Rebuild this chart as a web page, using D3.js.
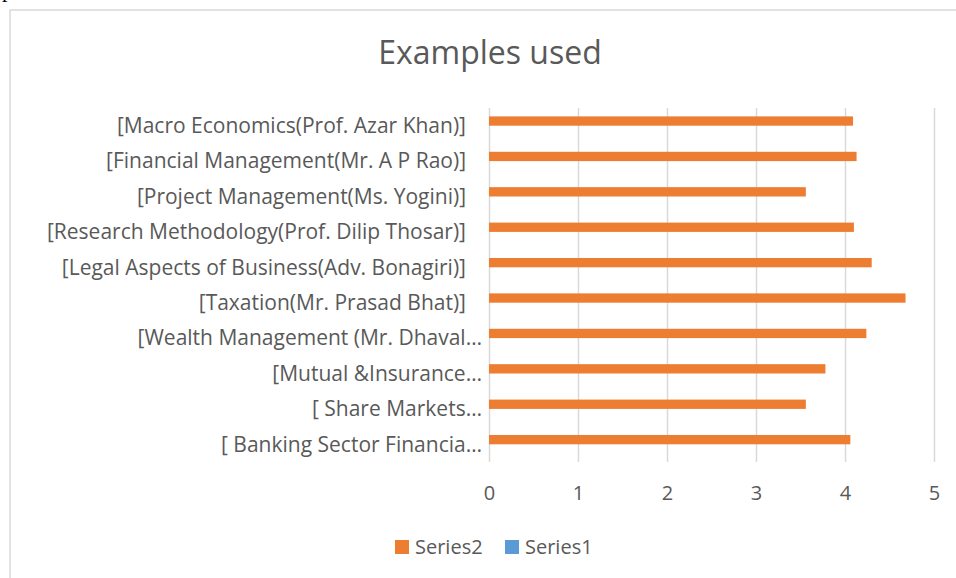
<!DOCTYPE html>
<html>
<head>
<meta charset="utf-8">
<script src="https://cdn.jsdelivr.net/npm/d3@7"></script>
<style>
  body { margin: 0; background: #fff; }
  svg { display: block; }
</style>
</head>
<body>
<div id="chart"></div>
<script>
// categories, top to bottom as they appear
var categories = [
    "[Macro Economics(Prof. Azar Khan)]",
    "[Financial Management(Mr. A P Rao)]",
    "[Project Management(Ms. Yogini)]",
    "[Research Methodology(Prof. Dilip Thosar)]",
    "[Legal Aspects of Business(Adv. Bonagiri)]",
    "[Taxation(Mr. Prasad Bhat)]",
    "[Wealth Management (Mr. Dhaval…",
    "[Mutual &Insurance…",
    "[ Share Markets…",
    "[ Banking Sector Financia…"
];
var series2 = [4.09, 4.13, 3.56, 4.10, 4.30, 4.68, 4.24, 3.78, 3.56, 4.06];
var series1 = [0, 0, 0, 0, 0, 0, 0, 0, 0, 0];
var seriesNames = ["Series2", "Series1"];
var seriesColors = ["#ED7D31", "#5B9BD5"];
var xTicks = [0, 1, 2, 3, 4, 5];

var w = 956, h = 578;
var plotLeft = 489, plotRight = 934, plotTop = 108, plotBottom = 462;
var font = "'Open Sans', sans-serif",
    textColor = "#595959",
    gridColor = "#d9d9d9";

var svg = d3.select("#chart").append("svg")
    .attr("width", w)
    .attr("height", h);

// stray letter from the surrounding document
svg.append("text")
    .attr("x", 2)
    .attr("y", -3)
    .style("font-family", "'Liberation Serif', serif")
    .style("font-size", "22px")
    .style("fill", "#000")
    .text("p");

// chart frame, cut off at right and bottom
svg.append("rect")
    .attr("x", 10)
    .attr("y", 10)
    .attr("width", w)
    .attr("height", h)
    .style("fill", "#fff")
    .style("stroke", gridColor)
    .style("stroke-width", 1.5);

svg.append("text")
    .attr("x", 490)
    .attr("y", 64)
    .attr("text-anchor", "middle")
    .style("font-family", font)
    .style("font-size", "32px")
    .style("fill", textColor)
    .text("Examples used");

var x = d3.scaleLinear().domain([0, 5]).range([plotLeft, plotRight]);
var y = d3.scaleBand().domain(categories).range([plotTop, plotBottom]);
var ySub = d3.scaleBand().domain(seriesNames)
    .range([0, y.bandwidth()])
    .paddingOuter(0.9);

// vertical gridlines
var grid = svg.append("g")
    .attr("transform", "translate(0," + plotBottom + ")")
    .call(d3.axisBottom(x).tickValues(xTicks).tickSize(-(plotBottom - plotTop)).tickFormat(""));
grid.select(".domain").remove();
grid.selectAll("line").style("stroke", gridColor).style("stroke-width", 1.5);

// x tick labels
var xAxis = svg.append("g")
    .attr("transform", "translate(0," + plotBottom + ")")
    .call(d3.axisBottom(x).tickValues(xTicks).tickSize(0).tickPadding(24).tickFormat(d3.format("d")));
xAxis.select(".domain").remove();
xAxis.selectAll("text")
    .style("font-family", font)
    .style("font-size", "20px")
    .style("fill", textColor);

// category labels
var yAxis = svg.append("g")
    .attr("transform", "translate(" + plotLeft + ",0)")
    .call(d3.axisLeft(y).tickSize(0).tickPadding(7));
yAxis.select(".domain").remove();
yAxis.selectAll("text")
    .style("font-family", font)
    .style("font-size", "21px")
    .style("fill", textColor)
    .attr("dy", "0.35em")
    .attr("x", function(d) { return d.slice(-1) === "…" ? -7 : -23; });

// bars
var allSeries = [series2, series1];
allSeries.forEach(function(vals, s) {
    svg.append("g").selectAll("rect")
        .data(vals).enter().append("rect")
        .attr("x", x(0))
        .attr("y", function(d, i) { return y(categories[i]) + ySub(seriesNames[s]); })
        .attr("width", function(d) { return x(d) - x(0); })
        .attr("height", ySub.bandwidth())
        .style("fill", seriesColors[s]);
});

// legend
var legend = svg.append("g").attr("transform", "translate(395,540)");
var item = legend.selectAll("g")
    .data(seriesNames).enter().append("g")
    .attr("transform", function(d, i) { return "translate(" + (i * 110) + ",0)"; });
item.append("rect")
    .attr("width", 14)
    .attr("height", 14)
    .style("fill", function(d, i) { return seriesColors[i]; });
item.append("text")
    .attr("x", 20)
    .attr("y", 7)
    .attr("dy", "0.35em")
    .style("font-family", font)
    .style("font-size", "20px")
    .style("fill", textColor)
    .text(function(d) { return d; });
</script>
</body>
</html>
